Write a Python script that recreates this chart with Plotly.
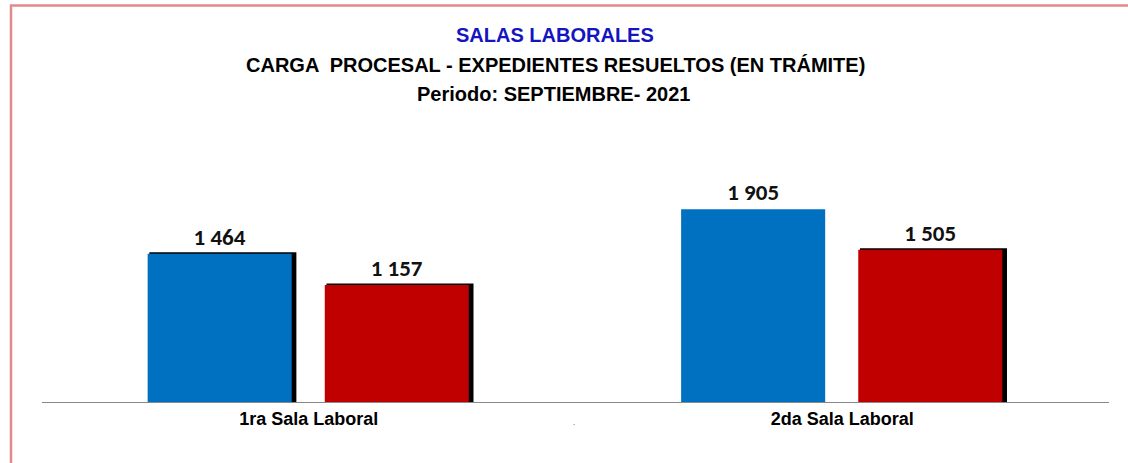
import plotly.graph_objects as go

categories = ["1ra Sala Laboral", "2da Sala Laboral"]
resueltos = [1464, 1905]
en_tramite = [1157, 1505]
title_lines = ["SALAS LABORALES",
               "CARGA  PROCESAL - EXPEDIENTES RESUELTOS (EN TRÁMITE)",
               "Periodo: SEPTIEMBRE- 2021"]

def fmt(v):
    return "<b>" + f"{v:,}".replace(",", " ") + "</b>"

W, H = 1128, 463
L, R, T, B = 42, 19, 150, 61
pw = W - L - R
ph = H - T - B

BLUE = "#0070C0"
RED = "#C00000"
NARROW = "Liberation Sans Narrow, Arial Narrow, Liberation Sans, Arial, sans-serif"
LABEL_FONT = "Carlito, Calibri, Lato, Open Sans, sans-serif"

bw = 0.27
off_blue = -0.302
off_red = 0.03
sh = 0.006

fig = go.Figure()
# shadows
fig.add_trace(go.Bar(x=categories, y=resueltos, width=bw, offset=off_blue + sh,
                     marker=dict(color=["black", "rgba(0,0,0,0)"],
                                 line=dict(color=["black", "rgba(0,0,0,0)"], width=3)),
                     hoverinfo="skip", showlegend=False))
fig.add_trace(go.Bar(x=categories, y=en_tramite, width=bw, offset=off_red + sh,
                     marker=dict(color="black", line=dict(color="black", width=3)),
                     hoverinfo="skip", showlegend=False))
# main bars
fig.add_trace(go.Bar(x=categories, y=resueltos, width=bw, offset=off_blue,
                     marker=dict(color=BLUE, line=dict(width=0)),
                     text=[fmt(v) for v in resueltos], textposition="outside",
                     textfont=dict(family=LABEL_FONT, size=23, color="#111111"),
                     cliponaxis=False, name="Resueltos", showlegend=False))
fig.add_trace(go.Bar(x=categories, y=en_tramite, width=bw, offset=off_red,
                     marker=dict(color=RED, line=dict(width=0)),
                     text=[fmt(v) for v in en_tramite], textposition="outside",
                     textfont=dict(family=LABEL_FONT, size=23, color="#111111"),
                     cliponaxis=False, name="En trámite", showlegend=False))

def py(page_y):
    return (H - B - page_y) / ph

def px(page_x):
    return (page_x - L) / pw

fig.add_annotation(x=px(555), y=py(35), xref="paper", yref="paper", text="<b>" + title_lines[0] + "</b>",
                   showarrow=False, font=dict(family=NARROW, size=20, color="#1414C0"), yanchor="middle")
fig.add_annotation(x=px(555), y=py(65), xref="paper", yref="paper", text="<b>" + title_lines[1] + "</b>",
                   showarrow=False, font=dict(family=NARROW, size=20, color="black"), yanchor="middle")
fig.add_annotation(x=px(553), y=py(94), xref="paper", yref="paper", text="<b>" + title_lines[2] + "</b>",
                   showarrow=False, font=dict(family=NARROW, size=20, color="black"), yanchor="middle")
fig.add_annotation(x=px(574), y=py(421), xref="paper", yref="paper", text=".",
                   showarrow=False, font=dict(size=8, color="#444444"), yanchor="middle")

fig.add_shape(type="rect", xref="paper", yref="paper",
              x0=px(11), x1=px(1140), y0=py(475), y1=py(5.5),
              line=dict(color="#E08A8A", width=2.5), fillcolor="rgba(0,0,0,0)", layer="below")

fig.update_layout(
    width=W, height=H,
    margin=dict(l=L, r=R, t=T, b=B),
    barmode="overlay",
    paper_bgcolor="white", plot_bgcolor="white",
    showlegend=False,
    hovermode=False,
)
fig.update_xaxes(range=[-0.5, 1.5], showline=True, linecolor="#888888", linewidth=1,
                 showgrid=False, zeroline=False, ticks="",
                 tickfont=dict(family=NARROW, size=18, color="black"),
                 tickprefix="<b>", ticksuffix="</b>")
fig.update_yaxes(range=[0, 2490], visible=False, showgrid=False, zeroline=False)

fig.write_html("out.html", config={"displayModeBar": False},
               post_script="document.body.style.margin='0';document.body.style.overflow='hidden';")
